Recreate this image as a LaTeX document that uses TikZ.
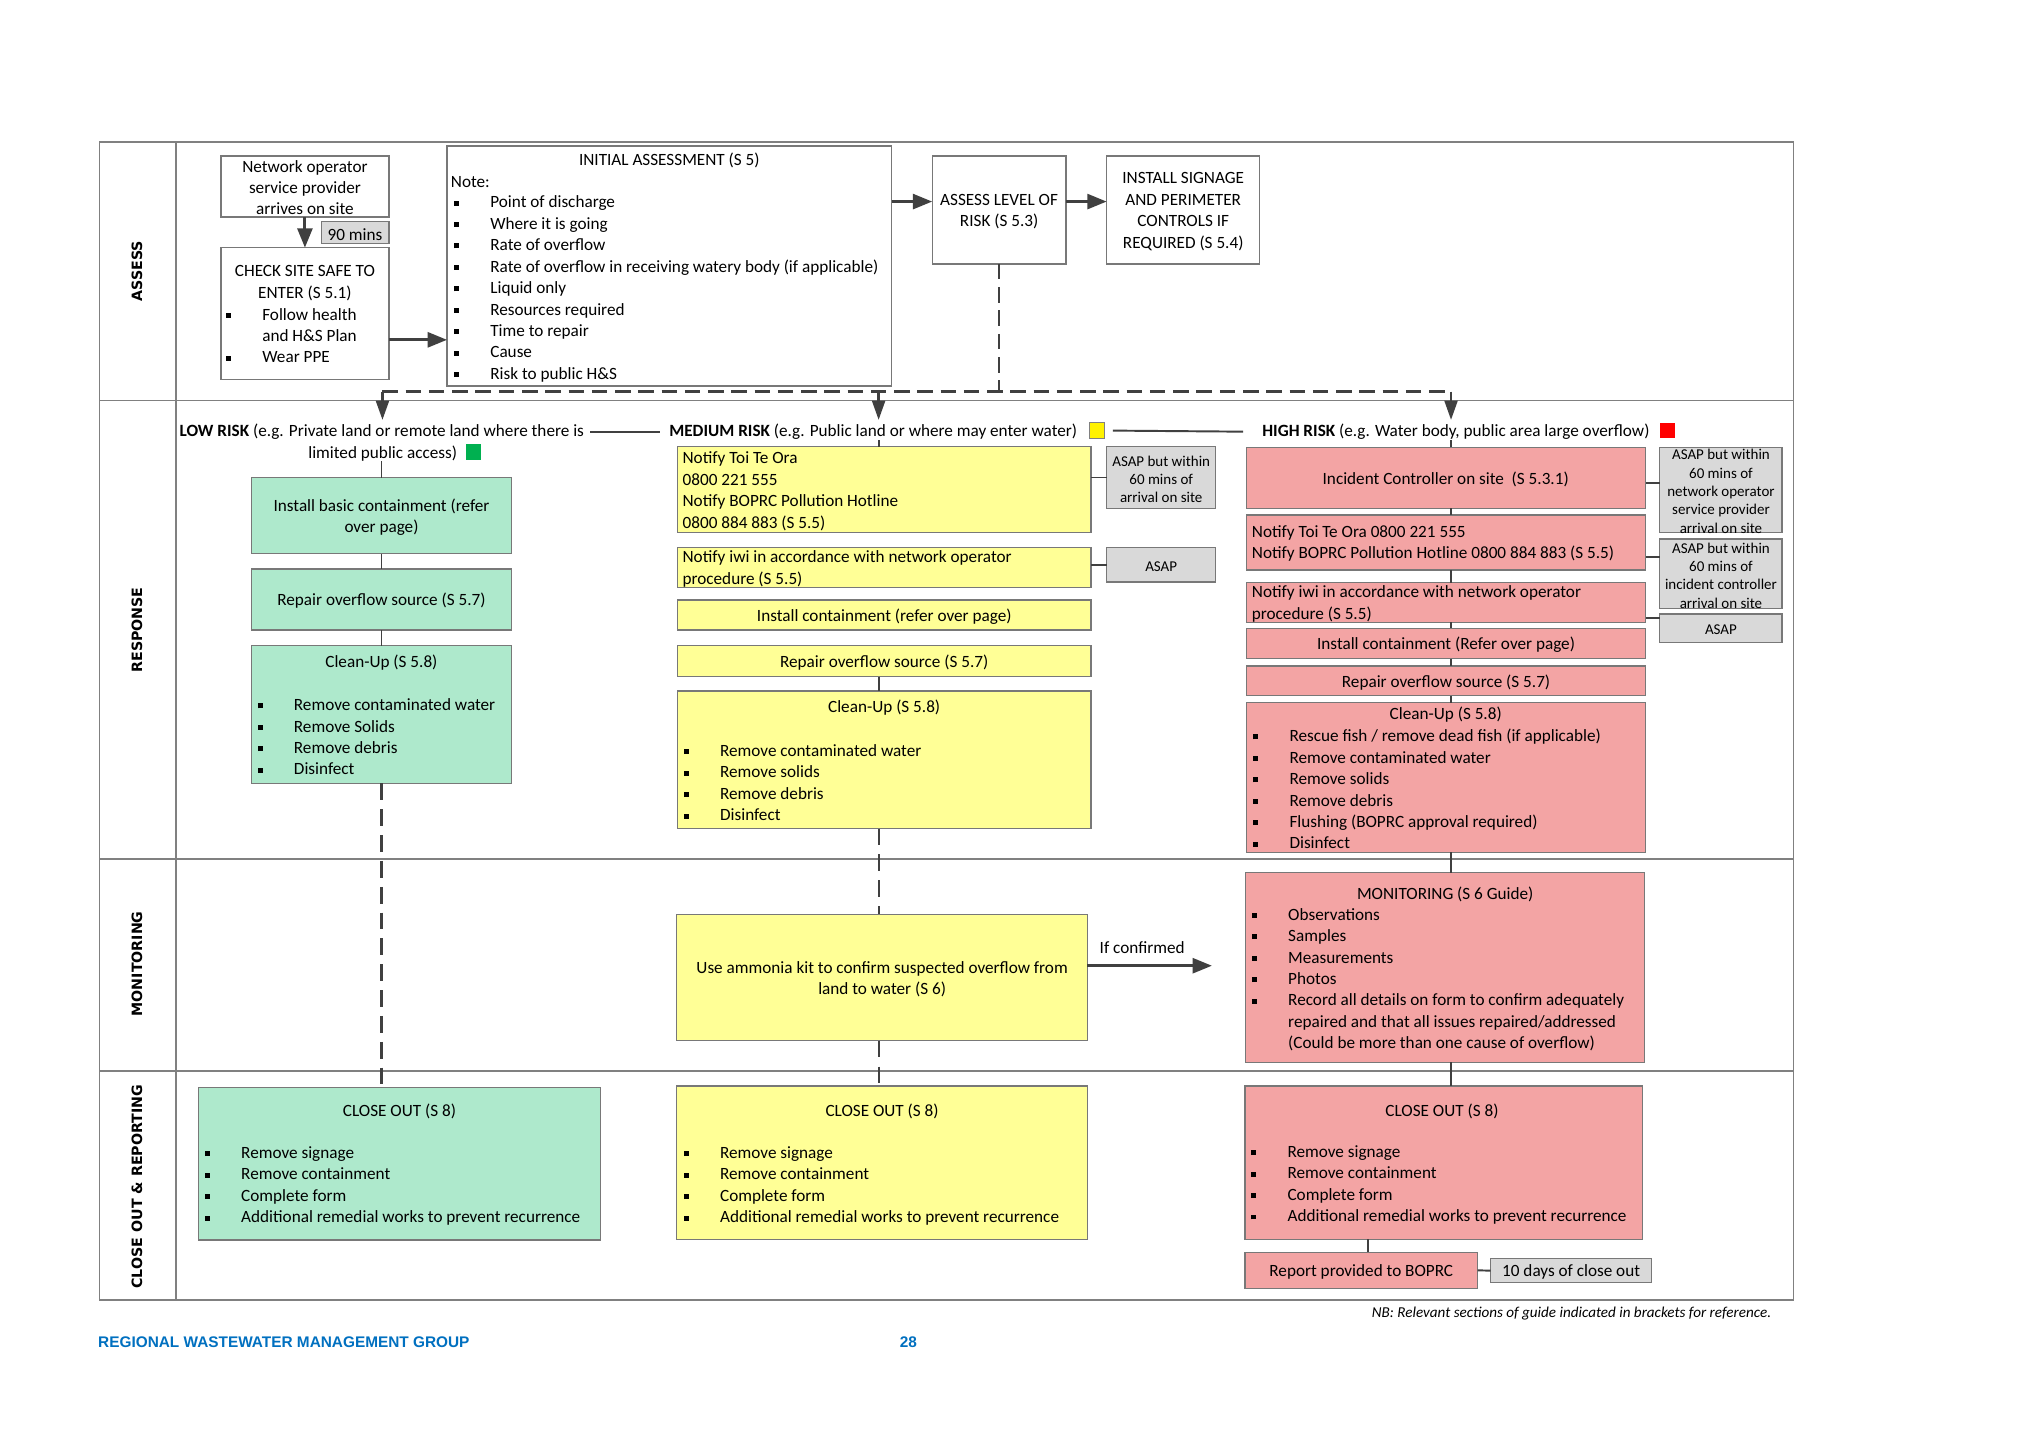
\documentclass[tikz,border=0pt]{standalone}
\usepackage{fontspec}
\setmainfont{Carlito}
\newfontfamily\lanefam{DejaVu Sans}
\newfontfamily\arialfam{Liberation Sans}
\usetikzlibrary{arrows.meta}
\definecolor{framecol}{RGB}{128,128,128}
\definecolor{conncol}{RGB}{64,64,64}
\definecolor{boxgray}{RGB}{120,120,120}
\definecolor{gfill}{RGB}{174,233,204}
\definecolor{yfill}{RGB}{255,255,150}
\definecolor{rfill}{RGB}{243,164,164}
\definecolor{grayfill}{RGB}{217,217,217}
\definecolor{footblue}{RGB}{0,112,192}
\newcommand\fsmain{\fontsize{13.3}{16.6}\selectfont}
\newcommand\fssmall{\fontsize{11.6}{14.2}\selectfont}
\newcommand\lanefont{\lanefam\bfseries\fontsize{11}{13}\selectfont}
\newcommand\footfont{\arialfam\bfseries\fontsize{11.9}{14}\selectfont}
\newcommand\nbfont{\fontsize{11.7}{13}\selectfont\itshape}
\newcommand\mybul{\rule[1.8pt]{3.8pt}{3.8pt}}
\newcommand\myitem[1]{\makebox[28pt][l]{\mybul}#1}
\newcommand\mybox[6]{\node[#1, anchor=north west, minimum width={#4-#2}, minimum height={#5-#3}] (#6) at (#2,#3) {};}
\tikzset{
  base/.style={inner sep=0pt, outer sep=0pt},
  bxs/.style={base, draw=boxgray, line width=0.9pt},
  gbx/.style={bxs, fill=gfill},
  ybx/.style={bxs, fill=yfill},
  rbx/.style={bxs, fill=rfill},
  graybx/.style={bxs, fill=grayfill},
  wbx/.style={bxs, fill=white},
  txt/.style={base, font=\fsmain, yshift=-1.2pt},
  stxt/.style={base, font=\fssmall, align=center, yshift=-1pt},
  sq/.style={base, minimum width=11.5pt, minimum height=12pt},
  conn/.style={draw=conncol, line width=1.5pt},
  thickarr/.style={draw=conncol, line width=2.4pt, -{Triangle[width=11.5pt,length=15pt]}},
  darr/.style={draw=conncol, line width=2pt, -{Triangle[width=10pt,length=15pt]}},
  dtop/.style={draw=conncol, line width=2pt, dash pattern=on 12pt off 6pt},
  dlow/.style={draw=conncol, line width=1.6pt, dash pattern=on 13pt off 7pt},
  lane/.style={base, font=\lanefont, rotate=90},
  framel/.style={draw=framecol, line width=1.2pt},
}
\begin{document}
\begin{tikzpicture}[x=1pt,y=-1pt]
\useasboundingbox (0,0) rectangle (1568,1108);
\fill[white] (0,0) rectangle (1568,1108);
% frame and lanes
\draw[framel] (77,110) rectangle (1388,1006);
\draw[framel] (77,310) -- (1388,310);
\draw[framel] (77,665) -- (1388,665);
\draw[framel] (77,829) -- (1388,829);
\draw[framel] (136,110) -- (136,1006);
\node[lane] (labA) at (106,210) {ASSESS};
\node[lane] (labR) at (106,487.5) {RESPONSE};
\node[lane] (labM) at (106,746) {MONITORING};
\node[lane] (labC) at (106,918.4) {CLOSE OUT \& REPORTING};
% ASSESS lane
\mybox{wbx}{171}{120.7}{301}{168}{arr}
\node[txt,align=center] (arrT) at (236,144) {Network operator\\service provider\\arrives on site};
\mybox{graybx}{248.5}{171.6}{301}{188.6}{nin}
\node[txt] (ninT) at (nin.center) {90 mins};
\mybox{wbx}{171}{191.7}{301}{293.6}{chk}
\node[txt,align=center] (chkT) at (236,218) {CHECK SITE SAFE TO\\ENTER (S 5.1)};
\node[txt,align=left,anchor=west] (chkL) at (175,258.5) {\myitem{Follow health}\\\hspace*{28pt}and H\&S Plan\\\myitem{Wear PPE}};
\mybox{wbx}{346}{113}{690}{298.7}{ia}
\node[txt] (iaT) at (518,123) {INITIAL ASSESSMENT (S 5)};
\node[txt,anchor=west] (iaN) at (349,140) {Note:};
\node[txt,align=left,anchor=west] (iaL) at (351.5,222.5) {\myitem{Point of discharge}\\\myitem{Where it is going}\\\myitem{Rate of overflow}\\\myitem{Rate of overflow in receiving watery body (if applicable)}\\\myitem{Liquid only}\\\myitem{Resources required}\\\myitem{Time to repair}\\\myitem{Cause}\\\myitem{Risk to public H\&S}};
\mybox{wbx}{721.5}{120.7}{825}{204.3}{al}
\node[txt,align=center] (alT) at (al.center) {ASSESS LEVEL OF\\RISK (S 5.3)};
\mybox{wbx}{856.5}{120.7}{975}{204.3}{sig}
\node[txt,align=center] (sigT) at (sig.center) {INSTALL SIGNAGE\\AND PERIMETER\\CONTROLS IF\\REQUIRED (S 5.4)};
\coordinate (jA) at (773.25,303);
\coordinate (jL) at (296,303);
\coordinate (jM) at (680,303);
\coordinate (jH) at (1123,303);
\coordinate (tL) at (296,325);
\coordinate (tM) at (680,325);
\coordinate (tH) at (1123,325);
\coordinate (rx) at (1059,0);
% RESPONSE headers
\node[txt,anchor=west] (lowH) at (139,333) {\textbf{LOW RISK} (e.g. Private land or remote land where there is};
\node[txt] (lowH2) at (296.2,349.6) {limited public access)};
\node[sq,fill={rgb,255:red,0;green,176;blue,80}] (gsq) at (366.3,349.8) {};
\node[txt,anchor=west] (medH) at (518,333) {\textbf{MEDIUM RISK} (e.g. Public land or where may enter water)};
\node[sq,fill=yellow,draw=black!50,line width=0.5pt] (ysq) at (848.6,333.2) {};
\node[txt,anchor=west] (hiH) at (977,333) {\textbf{HIGH RISK} (e.g. Water body, public area large overflow)};
\node[sq,fill=red] (rsq) at (1290.5,333) {};
% LOW column
\mybox{gbx}{194.5}{369.7}{396}{428.5}{lA}
\node[txt,align=center] (lAT) at (lA.center) {Install basic containment (refer\\over page)};
\mybox{gbx}{194.5}{440.4}{396}{487.6}{lB}
\node[txt] (lBT) at (lB.center) {Repair overflow source (S 5.7)};
\mybox{gbx}{194.5}{499.7}{396}{606.3}{lC}
\node[txt] (lCT) at (295.2,511.6) {Clean-Up (S 5.8)};
\node[txt,align=left,anchor=west] (lCL) at (199.5,569.1) {\myitem{Remove contaminated water}\\\myitem{Remove Solids}\\\myitem{Remove debris}\\\myitem{Disinfect}};
% MEDIUM column
\mybox{ybx}{524.3}{345.7}{844.4}{412.3}{mA}
\node[txt,align=left,anchor=west] (mAT) at (528.3,379.1) {Notify Toi Te Ora\\0800 221 555\\Notify BOPRC Pollution Hotline\\0800 884 883 (S 5.5)};
\mybox{graybx}{856.4}{345.7}{941}{393.4}{mS1}
\node[stxt] (mS1T) at (898.7,370) {ASAP but within\\60 mins of\\arrival on site};
\mybox{ybx}{524.3}{423.9}{844.4}{454.5}{mB}
\node[txt,align=left,anchor=west] (mBT) at (528.3,439.2) {Notify iwi in accordance with network operator\\procedure (S 5.5)};
\mybox{graybx}{856.4}{424}{941}{450.4}{mS2}
\node[stxt] (mS2T) at (mS2.center) {ASAP};
\mybox{ybx}{524.3}{464.4}{844.4}{487.6}{mC}
\node[txt] (mCT) at (mC.center) {Install containment (refer over page)};
\mybox{ybx}{524.3}{499.7}{844.4}{523.7}{mD}
\node[txt] (mDT) at (mD.center) {Repair overflow source (S 5.7)};
\mybox{ybx}{524.3}{534.8}{844.4}{641.3}{mE}
\node[txt] (mET) at (684.3,546.4) {Clean-Up (S 5.8)};
\node[txt,align=left,anchor=west] (mEL) at (529.3,604.6) {\myitem{Remove contaminated water}\\\myitem{Remove solids}\\\myitem{Remove debris}\\\myitem{Disinfect}};
% HIGH column
\mybox{rbx}{964.5}{346.2}{1273.8}{393.4}{hA}
\node[txt] (hAT) at (1118.9,369.5) {Incident Controller on site~ (S 5.3.1)};
\mybox{rbx}{964.5}{398.6}{1273.8}{441.1}{hB}
\node[txt,align=left,anchor=west] (hBT) at (968.9,419.5) {Notify Toi Te Ora 0800 221 555\\Notify BOPRC Pollution Hotline 0800 884 883 (S 5.5)};
\mybox{rbx}{964.5}{451}{1273.8}{481.7}{hC}
\node[txt,align=left,anchor=west] (hCT) at (968.9,466.3) {Notify iwi in accordance with network operator\\procedure (S 5.5)};
\mybox{rbx}{964.5}{486.3}{1273.8}{509.8}{hD}
\node[txt] (hDT) at (hD.center) {Install containment (Refer over page)};
\mybox{rbx}{964.5}{515.4}{1273.8}{538.4}{hE}
\node[txt] (hET) at (hE.center) {Repair overflow source (S 5.7)};
\mybox{rbx}{964.5}{543.8}{1273.8}{659.7}{hF}
\node[txt] (hFT) at (1118.9,551.6) {Clean-Up (S 5.8)};
\node[txt,align=left,anchor=west] (hFL) at (970,609.5) {\myitem{Rescue fish / remove dead fish (if applicable)}\\\myitem{Remove contaminated water}\\\myitem{Remove solids}\\\myitem{Remove debris}\\\myitem{Flushing (BOPRC approval required)}\\\myitem{Disinfect}};
\mybox{graybx}{1284.6}{346.2}{1379.2}{412.3}{hS1}
\node[stxt] (hS1T) at (1331.9,379.2) {ASAP but within\\60 mins of\\network operator\\service provider\\arrival on site};
\mybox{graybx}{1284.6}{417.2}{1379.2}{470.8}{hS2}
\node[stxt] (hS2T) at (1331.9,444.3) {ASAP but within\\60 mins of\\incident controller\\arrival on site};
\mybox{graybx}{1284.6}{475.2}{1379.2}{497.4}{hS3}
\node[stxt] (hS3T) at (hS3.center) {ASAP};
% MONITORING lane
\mybox{ybx}{523.7}{707.6}{841.6}{805.4}{amm}
\node[txt,align=center] (ammT) at (682.7,756.7) {Use ammonia kit to confirm suspected overflow from\\land to water (S 6)};
\coordinate (ifc) at (938,747.4);
\node[txt] (ifcT) at (884,732) {If confirmed};
\mybox{rbx}{963.8}{675.4}{1273}{822.2}{hM}
\node[txt] (hMT) at (1118.5,690.9) {MONITORING (S 6 Guide)};
\node[txt,align=left,anchor=west] (hML) at (969,757) {\myitem{Observations}\\\myitem{Samples}\\\myitem{Measurements}\\\myitem{Photos}\\\myitem{Record all details on form to confirm adequately}\\\hspace*{28pt}repaired and that all issues repaired/addressed\\\hspace*{28pt}(Could be more than one cause of overflow)};
% CLOSE OUT lane
\mybox{gbx}{153.6}{841.5}{464.7}{959.7}{lZ}
\node[txt] (lZT) at (309.2,859.1) {CLOSE OUT (S 8)};
\node[txt,align=left,anchor=west] (lZL) at (158.7,916.8) {\myitem{Remove signage}\\\myitem{Remove containment}\\\myitem{Complete form}\\\myitem{Additional remedial works to prevent recurrence}};
\mybox{ybx}{523.7}{840.5}{841.6}{959.2}{mZ}
\node[txt] (mZT) at (682.7,859.1) {CLOSE OUT (S 8)};
\node[txt,align=left,anchor=west] (mZL) at (529.3,916.8) {\myitem{Remove signage}\\\myitem{Remove containment}\\\myitem{Complete form}\\\myitem{Additional remedial works to prevent recurrence}};
\mybox{rbx}{963.5}{840.5}{1271.4}{959.2}{hZ}
\node[txt] (hZT) at (1116,858.6) {CLOSE OUT (S 8)};
\node[txt,align=left,anchor=west] (hZL) at (968.5,916) {\myitem{Remove signage}\\\myitem{Remove containment}\\\myitem{Complete form}\\\myitem{Additional remedial works to prevent recurrence}};
\mybox{rbx}{963.5}{969.2}{1143.6}{997.1}{rep}
\node[txt] (repT) at (rep.center) {Report provided to BOPRC};
\mybox{graybx}{1153.6}{974.1}{1278.3}{992.7}{ten}
\node[txt] (tenT) at (ten.center) {10 days of close out};
% footer
\node[base,font=\footfont,text=footblue,anchor=west] (ft) at (76,1039) {REGIONAL WASTEWATER MANAGEMENT GROUP};
\node[base,font=\footfont,text=footblue] (pg) at (703,1039) {28};
\node[base,font=\nbfont,anchor=east] (nb) at (1370.7,1016.4) {NB: Relevant sections of guide indicated in brackets for reference.};
% connectors: assess
\draw[thickarr] (arr.south) -- (chk.north);
\draw[thickarr] (chk.east |- 0,263) -- (ia.west |- 0,263);
\draw[thickarr] (ia.east |- 0,156) -- (al.west |- 0,156);
\draw[thickarr] (al.east |- 0,156) -- (sig.west |- 0,156);
\draw[dtop] (al.south) -- (jA);
\draw[dtop] (jL) -- (jH);
\draw[darr] (jL) -- (tL);
\draw[darr] (jM) -- (tM);
\draw[darr] (jH) -- (tH);
% connectors: headers
\draw[conn, shorten <=5pt, shorten >=7pt] (lowH.east) -- (medH.west);
\draw[conn, shorten <=7pt, shorten >=15pt] (ysq.east) -- (hiH.west);
% low
\draw[conn] (lA.north) -- (lA.north |- lowH2.south);
\draw[conn] (lA.south) -- (lB.north);
\draw[conn] (lB.south) -- (lC.north);
\draw[dlow] (lC.south) -- (lC.south |- lZ.north);
% medium
\draw[conn] (mA.north -| jM) -- (medH.south -| jM);
\draw[conn] (mS1.west) -- (mS1.west -| mA.east);
\draw[conn] (mS2.west) -- (mS2.west -| mB.east);
\draw[conn] (mD.south -| jM) -- (mE.north -| jM);
\draw[dlow] (mE.south -| jM) -- (amm.north -| jM);
\draw[dlow] (amm.south -| jM) -- (mZ.north -| jM);
\draw[thickarr] (amm.east |- ifc) -- (ifc);
% high
\draw[conn] (hA.north -| jH) -- (hiH.south -| jH);
\draw[conn] (hA.south -| jH) -- (hB.north -| jH);
\draw[conn] (hB.south -| jH) -- (hC.north -| jH);
\draw[conn] (hC.south -| jH) -- (hD.north -| jH);
\draw[conn] (hD.south -| jH) -- (hE.north -| jH);
\draw[conn] (hE.south -| jH) -- (hF.north -| jH);
\draw[conn] (hF.south -| jH) -- (hM.north -| jH);
\draw[conn] (hM.south -| jH) -- (hZ.north -| jH);
\draw[conn] (hZ.south -| rx) -- (rep.north -| rx);
\draw[conn] (rep.east) -- (ten.west);
\draw[conn] (hA.east |- 0,374) -- (hS1.west |- 0,374);
\draw[conn] (hB.east |- 0,431) -- (hS2.west |- 0,431);
\draw[conn] (hC.east |- 0,478) -- (hS3.west |- 0,478);
\end{tikzpicture}
\end{document}
